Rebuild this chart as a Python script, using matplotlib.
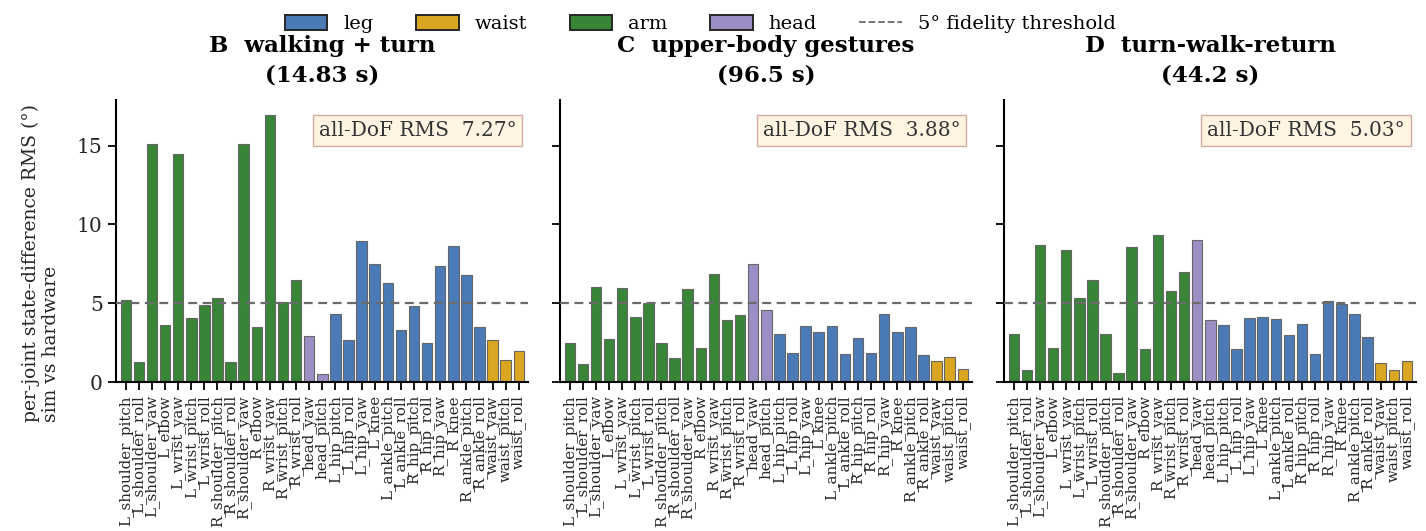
import matplotlib
matplotlib.use("Agg")
import matplotlib.pyplot as plt
from matplotlib.patches import Patch
from matplotlib.lines import Line2D

plt.rcParams['font.family'] = 'DejaVu Serif'

joints = ['L_shoulder_pitch', 'L_shoulder_roll', 'L_shoulder_yaw', 'L_elbow',
          'L_wrist_yaw', 'L_wrist_pitch', 'L_wrist_roll',
          'R_shoulder_pitch', 'R_shoulder_roll', 'R_shoulder_yaw', 'R_elbow',
          'R_wrist_yaw', 'R_wrist_pitch', 'R_wrist_roll',
          'head_yaw', 'head_pitch',
          'L_hip_pitch', 'L_hip_roll', 'L_hip_yaw', 'L_knee', 'L_ankle_pitch', 'L_ankle_roll',
          'R_hip_pitch', 'R_hip_roll', 'R_hip_yaw', 'R_knee', 'R_ankle_pitch', 'R_ankle_roll',
          'waist_yaw', 'waist_pitch', 'waist_roll']
groups = ['arm'] * 14 + ['head'] * 2 + ['leg'] * 12 + ['waist'] * 3

rms_walk_turn = [5.23, 1.25, 15.1, 3.62, 14.45, 4.05, 4.89, 5.32, 1.25, 15.1, 3.47, 16.95, 5.08, 6.48,
                 2.94, 0.51,
                 4.34, 2.67, 8.92, 7.46, 6.27, 3.33, 4.81, 2.50, 7.37, 8.64, 6.78, 3.47,
                 2.67, 1.40, 1.99]
rms_gestures = [2.50, 1.12, 6.04, 2.73, 5.97, 4.13, 5.02, 2.50, 1.50, 5.91, 2.14, 6.86, 3.92, 4.28,
                7.46, 4.58,
                3.03, 1.86, 3.54, 3.18, 3.54, 1.78, 2.82, 1.86, 4.34, 3.18, 3.47, 1.69,
                1.31, 1.61, 0.81]
rms_turn_walk = [3.03, 0.74, 8.71, 2.16, 8.35, 5.32, 6.50, 3.03, 0.59, 8.56, 2.08, 9.36, 5.76, 7.01,
                 9.00, 3.92,
                 3.62, 2.08, 4.07, 4.15, 4.00, 2.97, 3.69, 1.78, 5.17, 4.92, 4.34, 2.88,
                 1.19, 0.74, 1.31]

panel_titles = ['B  walking + turn\n(14.83 s)',
                'C  upper-body gestures\n(96.5 s)',
                'D  turn-walk-return\n(44.2 s)']
all_dof_rms = [7.27, 3.88, 5.03]
threshold = 5.0

group_colors = {'leg': '#4a7bb7', 'waist': '#daa520', 'arm': '#388538', 'head': '#9b8ec4'}

fig, axes = plt.subplots(1, 3, figsize=(14.26, 5.31), dpi=100, sharey=True)
plt.subplots_adjust(left=0.0813, right=0.993, bottom=0.2806, top=0.8117, wspace=0.0777)

x = list(range(len(joints)))
colors = [group_colors[g] for g in groups]
series = [rms_walk_turn, rms_gestures, rms_turn_walk]

for ax, vals, title, tot in zip(axes, series, panel_titles, all_dof_rms):
    ax.bar(x, vals, width=0.8, color=colors, edgecolor='0.4', linewidth=0.8, zorder=2)
    ax.axhline(threshold, color='0.42', linestyle='--', linewidth=1.6, dashes=(4, 2.5), zorder=3)
    ax.set_title(title, fontsize=16.5, fontweight='bold', pad=13, linespacing=1.45)
    ax.set_xticks(x)
    ax.set_xticklabels(joints, rotation=90, fontsize=10.8, color='0.15')
    ax.set_xlim(-0.75, 30.7)
    ax.text(0.972, 0.925, 'all-DoF RMS  %.2f°' % tot, transform=ax.transAxes,
            ha='right', va='top', fontsize=14.5, color='0.2',
            bbox=dict(boxstyle='square,pad=0.3', facecolor='#fff4e1', edgecolor='#d4aaa4', linewidth=1.0))
    for side in ['top', 'right']:
        ax.spines[side].set_visible(False)
    for side in ['left', 'bottom']:
        ax.spines[side].set_linewidth(1.5)
    ax.tick_params(axis='both', length=6, width=1.3)
    ax.tick_params(axis='y', labelsize=14.5, labelcolor='0.15')

axes[0].set_ylim(0, 17.9)
axes[0].set_yticks([0, 5, 10, 15])
fig.supylabel('per-joint state-difference RMS (°)\nsim vs hardware', fontsize=13.5,
              x=0.015, y=0.505, color='0.15')

handles = [Patch(facecolor=group_colors[g], edgecolor='0.15', linewidth=1.4, label=g)
           for g in ['leg', 'waist', 'arm', 'head']]
handles.append(Line2D([0], [0], color='0.42', linestyle='--', linewidth=1.3,
                      label='5° fidelity threshold'))
fig.legend(handles=handles, loc='upper center', bbox_to_anchor=(0.491, 1.005), ncol=5,
           frameon=False, fontsize=14, handlelength=2.2, handleheight=0.8, columnspacing=2.2)

fig.savefig('out.png', dpi=100)
